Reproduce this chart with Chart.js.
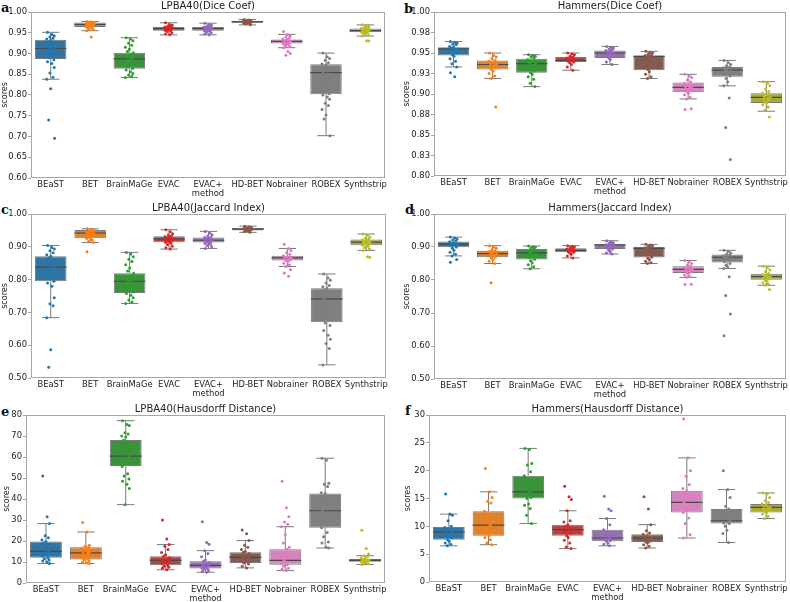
<!DOCTYPE html>
<html>
<head>
<meta charset="utf-8">
<script src="https://cdn.jsdelivr.net/npm/chart.js@4.4.1/dist/chart.umd.min.js"></script>
<style>
  html, body { margin: 0; padding: 0; background: #fff; width: 790px; height: 602px; overflow: hidden; }
  canvas { position: absolute; }
  .tag { position: absolute; font: bold 13px 'DejaVu Serif', serif; color: #111; line-height: 1; }
</style>
</head>
<body>
<div class="tag" style="left:1px;top:1px">a</div>
<div class="tag" style="left:404px;top:2px">b</div>
<div class="tag" style="left:1px;top:203px">c</div>
<div class="tag" style="left:405px;top:203px">d</div>
<div class="tag" style="left:1px;top:405px">e</div>
<div class="tag" style="left:405px;top:404px">f</div>
<script>
// methods on the x axis
const CATEGORIES = ['BEaST', 'BET', 'BrainMaGe', 'EVAC', 'EVAC+', 'HD-BET', 'Nobrainer', 'ROBEX', 'Synthstrip'];

// a: LPBA40 Dice
const A_LO  = [0.838, 0.955, 0.842, 0.945, 0.945, 0.969, 0.914, 0.702, 0.942];
const A_Q1  = [0.887, 0.964, 0.863, 0.955, 0.955, 0.974, 0.924, 0.802, 0.951];
const A_MED = [0.912, 0.970, 0.887, 0.960, 0.960, 0.976, 0.929, 0.854, 0.955];
const A_Q3  = [0.933, 0.975, 0.902, 0.964, 0.964, 0.979, 0.934, 0.874, 0.960];
const A_HI  = [0.951, 0.977, 0.938, 0.974, 0.973, 0.982, 0.946, 0.901, 0.969];
const A_PTS = [
  [0.951,0.946,0.943,0.940,0.937,0.935,0.932,0.928,0.925,0.920,0.915,0.912,0.910,0.906,0.900,0.895,0.890,0.885,0.880,0.876,0.866,0.853,0.843,0.838,0.815,0.740,0.696],
  [0.977,0.976,0.975,0.974,0.973,0.972,0.971,0.970,0.970,0.969,0.968,0.967,0.966,0.965,0.964,0.962,0.960,0.958,0.955,0.940],
  [0.938,0.935,0.931,0.925,0.920,0.915,0.910,0.905,0.902,0.898,0.893,0.888,0.885,0.880,0.876,0.872,0.868,0.864,0.860,0.856,0.852,0.848,0.845,0.842],
  [0.974,0.970,0.968,0.966,0.965,0.964,0.963,0.962,0.961,0.960,0.960,0.959,0.958,0.957,0.956,0.955,0.953,0.950,0.947,0.945],
  [0.973,0.970,0.968,0.966,0.965,0.964,0.963,0.962,0.961,0.960,0.959,0.958,0.957,0.956,0.955,0.954,0.952,0.950,0.947,0.945],
  [0.982,0.981,0.980,0.979,0.979,0.978,0.977,0.977,0.976,0.976,0.975,0.975,0.974,0.974,0.973,0.972,0.971,0.969],
  [0.953,0.946,0.942,0.940,0.937,0.935,0.933,0.931,0.930,0.929,0.928,0.927,0.926,0.925,0.924,0.922,0.920,0.917,0.914,0.905,0.900,0.896],
  [0.901,0.892,0.888,0.884,0.878,0.875,0.872,0.868,0.863,0.858,0.854,0.850,0.845,0.838,0.830,0.820,0.810,0.803,0.800,0.795,0.790,0.780,0.775,0.765,0.752,0.742,0.702],
  [0.969,0.967,0.965,0.963,0.961,0.960,0.959,0.958,0.957,0.956,0.955,0.954,0.953,0.952,0.951,0.950,0.948,0.945,0.942,0.931,0.930]
];
const A_YTICKS = [0.6, 0.65, 0.7, 0.75, 0.8, 0.85, 0.9, 0.95, 1.0];
const A_YLABELS = ['0.60', '0.65', '0.70', '0.75', '0.80', '0.85', '0.90', '0.95', '1.00'];

// b: Hammers Dice
const B_LO  = [0.933, 0.919, 0.909, 0.929, 0.936, 0.919, 0.894, 0.910, 0.879];
const B_Q1  = [0.947, 0.930, 0.926, 0.939, 0.944, 0.929, 0.902, 0.921, 0.889];
const B_MED = [0.955, 0.936, 0.937, 0.941, 0.950, 0.946, 0.908, 0.929, 0.896];
const B_Q3  = [0.957, 0.941, 0.943, 0.945, 0.953, 0.947, 0.914, 0.933, 0.901];
const B_HI  = [0.964, 0.950, 0.948, 0.950, 0.958, 0.952, 0.924, 0.941, 0.915];
const B_PTS = [
  [0.964,0.963,0.962,0.961,0.960,0.958,0.957,0.956,0.955,0.954,0.953,0.950,0.948,0.946,0.943,0.940,0.937,0.933,0.926,0.921],
  [0.950,0.947,0.945,0.943,0.941,0.940,0.938,0.937,0.936,0.935,0.934,0.932,0.930,0.928,0.925,0.922,0.919,0.884],
  [0.948,0.947,0.946,0.945,0.944,0.942,0.940,0.938,0.937,0.935,0.932,0.928,0.926,0.924,0.921,0.918,0.913,0.909],
  [0.950,0.949,0.948,0.946,0.945,0.944,0.943,0.942,0.941,0.941,0.940,0.939,0.938,0.936,0.933,0.929],
  [0.958,0.957,0.956,0.955,0.954,0.953,0.952,0.951,0.950,0.949,0.948,0.946,0.944,0.942,0.939,0.936],
  [0.952,0.951,0.950,0.949,0.948,0.947,0.946,0.946,0.945,0.942,0.938,0.933,0.930,0.927,0.924,0.921,0.919],
  [0.924,0.922,0.920,0.917,0.915,0.913,0.911,0.910,0.909,0.908,0.907,0.905,0.903,0.901,0.899,0.896,0.894,0.882,0.881],
  [0.941,0.938,0.936,0.934,0.933,0.932,0.930,0.929,0.928,0.926,0.924,0.922,0.919,0.915,0.910,0.895,0.859,0.820],
  [0.915,0.913,0.910,0.906,0.903,0.901,0.899,0.897,0.896,0.895,0.894,0.892,0.890,0.889,0.887,0.884,0.880,0.872]
];
const B_YTICKS = [0.8, 0.825, 0.85, 0.875, 0.9, 0.925, 0.95, 0.975, 1.0];
const B_YLABELS = ['0.80', '0.83', '0.85', '0.88', '0.90', '0.93', '0.95', '0.98', '1.00'];

// c: LPBA40 Jaccard
const C_LO  = [0.684, 0.913, 0.727, 0.893, 0.895, 0.944, 0.840, 0.540, 0.889];
const C_Q1  = [0.795, 0.926, 0.759, 0.914, 0.913, 0.950, 0.858, 0.670, 0.905];
const C_MED = [0.838, 0.942, 0.795, 0.924, 0.920, 0.954, 0.866, 0.741, 0.914];
const C_Q3  = [0.871, 0.951, 0.819, 0.932, 0.928, 0.957, 0.873, 0.774, 0.922];
const C_HI  = [0.904, 0.955, 0.883, 0.952, 0.947, 0.963, 0.895, 0.817, 0.939];
const C_PTS = [
  [0.904,0.898,0.893,0.888,0.882,0.876,0.871,0.866,0.860,0.852,0.845,0.838,0.832,0.825,0.818,0.810,0.803,0.795,0.790,0.780,0.745,0.726,0.720,0.684,0.586,0.533],
  [0.955,0.953,0.951,0.949,0.947,0.945,0.943,0.942,0.940,0.938,0.936,0.933,0.930,0.927,0.925,0.921,0.917,0.913,0.885],
  [0.883,0.878,0.870,0.862,0.855,0.845,0.835,0.826,0.819,0.812,0.805,0.798,0.795,0.790,0.784,0.776,0.768,0.762,0.758,0.752,0.745,0.738,0.732,0.727],
  [0.952,0.946,0.940,0.936,0.933,0.931,0.929,0.927,0.925,0.924,0.922,0.920,0.918,0.916,0.914,0.911,0.907,0.902,0.897,0.893],
  [0.947,0.942,0.937,0.933,0.930,0.928,0.926,0.924,0.922,0.920,0.919,0.917,0.915,0.913,0.911,0.908,0.904,0.900,0.895],
  [0.963,0.961,0.959,0.958,0.957,0.956,0.955,0.955,0.954,0.953,0.952,0.951,0.950,0.949,0.947,0.944],
  [0.908,0.895,0.889,0.882,0.877,0.873,0.870,0.868,0.866,0.864,0.862,0.860,0.858,0.855,0.850,0.845,0.840,0.830,0.820,0.810],
  [0.817,0.805,0.798,0.790,0.782,0.778,0.774,0.768,0.760,0.750,0.741,0.730,0.715,0.700,0.690,0.675,0.668,0.660,0.645,0.630,0.618,0.605,0.590,0.540],
  [0.939,0.935,0.930,0.926,0.923,0.921,0.919,0.917,0.915,0.914,0.913,0.911,0.909,0.907,0.905,0.902,0.898,0.893,0.889,0.870,0.868]
];
const C_YTICKS = [0.5, 0.6, 0.7, 0.8, 0.9, 1.0];
const C_YLABELS = ['0.50', '0.60', '0.70', '0.80', '0.90', '1.00'];

// d: Hammers Jaccard
const D_LO  = [0.873, 0.850, 0.834, 0.867, 0.879, 0.850, 0.808, 0.835, 0.784];
const D_Q1  = [0.899, 0.869, 0.862, 0.884, 0.894, 0.868, 0.821, 0.853, 0.801];
const D_MED = [0.909, 0.880, 0.882, 0.890, 0.906, 0.896, 0.832, 0.869, 0.810];
const D_Q3  = [0.917, 0.889, 0.894, 0.896, 0.909, 0.900, 0.842, 0.877, 0.819];
const D_HI  = [0.930, 0.904, 0.903, 0.904, 0.919, 0.908, 0.859, 0.890, 0.842];
const D_PTS = [
  [0.930,0.927,0.924,0.921,0.918,0.916,0.913,0.910,0.909,0.907,0.904,0.900,0.896,0.890,0.884,0.878,0.873,0.862,0.854],
  [0.904,0.900,0.896,0.892,0.889,0.886,0.883,0.880,0.878,0.876,0.873,0.870,0.866,0.862,0.857,0.850,0.792],
  [0.903,0.901,0.899,0.896,0.893,0.890,0.886,0.882,0.878,0.873,0.868,0.863,0.858,0.852,0.846,0.840,0.834],
  [0.904,0.902,0.900,0.898,0.896,0.894,0.892,0.890,0.889,0.888,0.886,0.884,0.882,0.878,0.873,0.867],
  [0.919,0.916,0.913,0.911,0.909,0.907,0.906,0.905,0.903,0.900,0.897,0.894,0.890,0.886,0.882,0.879],
  [0.908,0.906,0.904,0.902,0.900,0.898,0.896,0.893,0.888,0.882,0.876,0.870,0.866,0.862,0.857,0.852,0.850],
  [0.859,0.855,0.850,0.846,0.842,0.839,0.836,0.833,0.832,0.830,0.828,0.825,0.822,0.819,0.815,0.810,0.808,0.787,0.786],
  [0.890,0.886,0.882,0.878,0.876,0.873,0.870,0.868,0.865,0.860,0.855,0.850,0.845,0.840,0.835,0.810,0.753,0.697,0.631],
  [0.842,0.838,0.830,0.825,0.820,0.817,0.814,0.812,0.810,0.808,0.806,0.803,0.800,0.796,0.792,0.788,0.784,0.771]
];
const D_YTICKS = [0.5, 0.6, 0.7, 0.8, 0.9, 1.0];
const D_YLABELS = ['0.50', '0.60', '0.70', '0.80', '0.90', '1.00'];

// e: LPBA40 Hausdorff
const E_LO  = [9.3, 9.3, 37.3, 6.3, 5.1, 7.2, 5.9, 16.7, 8.8];
const E_Q1  = [12.0, 11.2, 55.7, 8.5, 6.9, 9.5, 8.7, 26.3, 10.1];
const E_MED = [15.1, 14.3, 60.4, 10.8, 8.4, 12.2, 10.8, 34.4, 10.8];
const E_Q3  = [19.8, 17.0, 68.1, 12.7, 10.3, 14.6, 16.1, 42.6, 11.4];
const E_HI  = [28.3, 24.3, 77.3, 18.3, 15.4, 20.2, 26.8, 59.4, 13.0];
const E_PTS = [
  [51.0,31.5,28.3,22.5,21.5,20.5,19.8,19.0,18.2,17.0,16.0,15.1,14.5,13.5,12.8,12.0,11.5,11.0,10.5,10.0,9.3],
  [28.8,24.3,18.0,17.5,17.0,16.5,16.0,15.5,15.0,14.5,14.3,13.8,13.2,12.5,12.0,11.5,11.2,10.5,10.0,9.5,9.3],
  [77.3,75.5,75.0,71.5,71.0,70.0,69.5,68.0,66.0,64.0,62.0,60.4,58.5,57.0,55.5,52.0,51.0,49.5,48.5,47.0,45.0,37.3],
  [30.0,21.0,18.3,17.5,16.0,14.5,13.5,12.7,12.0,11.5,11.0,10.8,10.2,9.8,9.2,8.5,8.0,7.5,7.0,6.3],
  [29.2,19.3,18.5,15.4,14.0,12.5,11.0,10.3,9.8,9.2,8.8,8.4,8.0,7.6,7.2,6.9,6.5,6.0,5.5,5.1],
  [25.2,23.5,20.2,18.0,17.0,16.0,15.0,14.6,14.0,13.2,12.5,12.2,11.8,11.0,10.5,10.0,9.5,9.0,8.0,7.2],
  [48.5,35.8,31.5,29.0,28.0,26.8,23.0,19.0,17.0,16.1,14.0,12.0,10.8,10.0,9.2,8.7,8.0,7.0,6.5,5.9],
  [59.4,58.5,47.5,47.0,46.0,43.0,42.6,40.0,38.0,36.0,34.4,32.0,30.0,28.0,26.3,24.0,22.0,19.5,19.0,17.0,16.7],
  [25.1,16.4,13.8,13.0,12.5,12.0,11.4,11.2,11.0,10.9,10.8,10.7,10.5,10.3,10.1,9.8,9.5,9.2,8.8]
];
const E_YTICKS = [0, 10, 20, 30, 40, 50, 60, 70, 80];
const E_YLABELS = ['0', '10', '20', '30', '40', '50', '60', '70', '80'];

// f: Hammers Hausdorff
const F_LO  = [6.5, 6.7, 10.5, 6.0, 6.5, 6.1, 7.9, 7.1, 11.4];
const F_Q1  = [7.6, 8.3, 15.0, 8.3, 7.3, 7.2, 12.5, 10.5, 12.5];
const F_MED = [9.0, 10.2, 16.2, 9.4, 7.9, 7.9, 14.3, 11.0, 13.4];
const F_Q3  = [9.9, 12.7, 19.1, 10.3, 9.4, 8.6, 16.4, 13.1, 14.0];
const F_HI  = [12.2, 16.2, 24.0, 12.8, 11.4, 10.3, 22.3, 16.6, 16.0];
const F_PTS = [
  [15.8,12.2,12.0,11.0,10.0,9.8,9.5,9.2,9.0,8.8,8.5,8.0,7.6,7.3,7.0,6.8,6.5],
  [20.4,16.2,15.2,14.5,14.2,12.7,12.0,11.5,10.8,10.2,9.8,9.2,8.7,8.3,8.0,7.6,7.0,6.7],
  [24.0,23.8,21.3,21.0,19.8,19.1,18.5,17.5,16.8,16.2,15.8,15.2,15.0,14.0,13.8,13.2,12.0,10.5],
  [17.2,15.3,14.8,12.8,11.0,10.8,10.3,10.0,9.7,9.4,9.1,8.8,8.3,8.0,7.5,7.0,6.3,6.0],
  [15.4,13.1,12.8,11.4,10.3,9.4,9.0,8.6,8.2,7.9,7.7,7.4,7.3,7.0,6.8,6.5],
  [15.3,13.1,10.3,9.2,8.8,8.6,8.3,8.1,7.9,7.7,7.5,7.3,7.2,7.0,6.7,6.4,6.1],
  [29.3,22.3,20.0,19.0,17.5,16.8,16.4,16.0,15.3,14.8,14.3,13.8,13.3,12.8,12.5,11.5,10.5,8.5,7.9],
  [20.0,16.6,15.2,13.6,13.1,12.8,12.0,11.5,11.0,10.8,10.6,10.5,10.0,9.3,8.7,7.1],
  [16.0,15.8,15.2,14.6,14.3,14.0,13.8,13.6,13.4,13.3,13.1,12.9,12.7,12.5,12.2,11.8,11.4]
];
const F_YTICKS = [0, 5, 10, 15, 20, 25, 30];
const F_YLABELS = ['0', '5', '10', '15', '20', '25', '30'];

// styling
const BOX_COLORS = ['#3274a1', '#e1812c', '#3a923a', '#c03d3e', '#9372b2', '#845b53', '#d684bd', '#7f7f7f', '#a9aa35'];
const PT_COLORS  = ['#1f77b4', '#ff7f0e', '#2ca02c', '#d62728', '#9467bd', '#8c564b', '#e377c2', '#7f7f7f', '#bcbd22'];
const JITTER = [-0.08, 0.03, 0.09, -0.02, 0.06, -0.1, 0.0, -0.05, 0.1, 0.04, -0.07, 0.07, -0.03, 0.01, -0.09, 0.05, -0.04, 0.08];
const FONT = 'DejaVu Sans';
const LINE = '#7a7a7a';
const TEXT = '#222';

// box frame and panel title
const framePlugin = {
  id: 'frame',
  beforeDatasetsDraw(chart, args, opts) {
    const a = chart.chartArea, ctx = chart.ctx;
    ctx.save();
    ctx.strokeStyle = '#a6a6a6';
    ctx.lineWidth = 1;
    ctx.strokeRect(Math.round(a.left) + 0.5, Math.round(a.top) + 0.5,
                   Math.round(a.width) - 1, Math.round(a.height) - 1);
    ctx.restore();
  },
  afterDraw(chart, args, opts) {
    const a = chart.chartArea, ctx = chart.ctx;
    ctx.save();
    ctx.font = '10px "' + FONT + '"';
    ctx.fillStyle = TEXT;
    ctx.textAlign = 'center';
    ctx.textBaseline = 'middle';
    ctx.fillText(opts.text, (a.left + a.right) / 2, a.top - 6);
    ctx.restore();
  }
};

// half-length of a horizontal line mark, as a share of one category slot
function slotRadius(share) {
  return function (ctx) {
    const a = ctx.chart.chartArea;
    return a ? a.width / CATEGORIES.length * share : 0;
  };
}

function makePanel(g, title, lo, q1, med, q3, hi, pts, yticks, ylabels) {
  const cv = document.createElement('canvas');
  const x0 = g.L - g.axisW - g.padL;
  const y0 = g.T - 13;
  const w = g.R + g.padR - x0;
  const h = g.B + 22 - y0;
  cv.width = w; cv.height = h;
  cv.style.left = x0 + 'px';
  cv.style.top = y0 + 'px';
  document.body.appendChild(cv);

  const points = [], colors = [];
  pts.forEach((list, i) => {
    list.forEach((v, k) => {
      points.push({ x: i + JITTER[k % JITTER.length], y: v });
      colors.push(PT_COLORS[i]);
    });
  });
  const whiskers = [];
  CATEGORIES.forEach((c, i) => {
    whiskers.push({ x: i, y: lo[i] }, { x: i, y: q1[i] }, { x: i, y: null },
                  { x: i, y: q3[i] }, { x: i, y: hi[i] }, { x: i, y: null });
  });
  const caps = [];
  CATEGORIES.forEach((c, i) => { caps.push({ x: i, y: lo[i] }, { x: i, y: hi[i] }); });

  new Chart(cv, {
    type: 'scatter',
    data: {
      datasets: [
        {
          label: 'points', data: points, order: 0,
          pointRadius: 1.5, pointBackgroundColor: colors, pointBorderWidth: 0
        },
        {
          label: 'median', data: CATEGORIES.map((c, i) => ({ x: i, y: med[i] })), order: 1,
          pointStyle: 'line', pointRadius: slotRadius(0.4),
          pointBorderColor: '#4a4a4a', pointBorderWidth: 1.2
        },
        {
          label: 'caps', data: caps, order: 2,
          pointStyle: 'line', pointRadius: slotRadius(0.22),
          pointBorderColor: LINE, pointBorderWidth: 1
        },
        {
          type: 'bar', label: 'box', order: 3,
          data: CATEGORIES.map((c, i) => ({ x: i, y: [q1[i], q3[i]] })),
          backgroundColor: BOX_COLORS, borderColor: LINE, borderWidth: 1,
          borderSkipped: false, categoryPercentage: 1, barPercentage: 0.8
        },
        {
          label: 'whiskers', data: whiskers, order: 4, showLine: true, spanGaps: false,
          pointRadius: 0, borderColor: LINE, borderWidth: 1
        }
      ]
    },
    options: {
      responsive: false,
      animation: false,
      events: [],
      layout: { padding: { left: g.padL, right: g.padR, top: 13, bottom: 0 } },
      plugins: {
        legend: { display: false },
        tooltip: { enabled: false },
        frame: { text: title }
      },
      scales: {
        x: {
          type: 'linear', min: -0.5, max: 8.5, offset: false,
          grid: { drawOnChartArea: false, drawTicks: false, offset: false },
          border: { display: false },
          afterBuildTicks: s => { s.ticks = CATEGORIES.map((c, i) => ({ value: i })); },
          afterFit: s => { s.height = 21; },
          ticks: {
            autoSkip: false, maxRotation: 0, minRotation: 0, padding: 2,
            color: TEXT, font: { family: FONT, size: 8.4 },
            callback: (v, i) => CATEGORIES[i]
          },
          title: { display: true, text: 'method', color: TEXT, font: { family: FONT, size: 8.4 }, padding: { top: 0, bottom: 0 } }
        },
        y: {
          type: 'linear', min: yticks[0], max: yticks[yticks.length - 1],
          grid: { drawOnChartArea: false, drawTicks: true, tickLength: 3, color: '#a6a6a6' },
          border: { display: false },
          afterBuildTicks: s => { s.ticks = yticks.map(v => ({ value: v })); },
          afterFit: s => { s.width = g.axisW; },
          ticks: {
            padding: 1, color: TEXT, font: { family: FONT, size: 8.4 },
            callback: (v, i) => ylabels[i]
          },
          title: { display: true, text: 'scores', color: TEXT, font: { family: FONT, size: 8 }, padding: { top: 0, bottom: 0 } }
        }
      }
    },
    plugins: [framePlugin]
  });
}

makePanel({ L: 31, R: 385, T: 12, B: 177, axisW: 31, padL: 0, padR: 10 },
  'LPBA40(Dice Coef)', A_LO, A_Q1, A_MED, A_Q3, A_HI, A_PTS, A_YTICKS, A_YLABELS);
makePanel({ L: 434, R: 786, T: 12, B: 175, axisW: 32, padL: 0, padR: 4 },
  'Hammers(Dice Coef)', B_LO, B_Q1, B_MED, B_Q3, B_HI, B_PTS, B_YTICKS, B_YLABELS);
makePanel({ L: 31, R: 386, T: 214, B: 377, axisW: 31, padL: 0, padR: 9 },
  'LPBA40(Jaccard Index)', C_LO, C_Q1, C_MED, C_Q3, C_HI, C_PTS, C_YTICKS, C_YLABELS);
makePanel({ L: 434, R: 786, T: 214, B: 378, axisW: 32, padL: 0, padR: 4 },
  'Hammers(Jaccard Index)', D_LO, D_Q1, D_MED, D_Q3, D_HI, D_PTS, D_YTICKS, D_YLABELS);
makePanel({ L: 26, R: 385, T: 415, B: 582, axisW: 24, padL: 2, padR: 10 },
  'LPBA40(Hausdorff Distance)', E_LO, E_Q1, E_MED, E_Q3, E_HI, E_PTS, E_YTICKS, E_YLABELS);
makePanel({ L: 429, R: 786, T: 415, B: 581, axisW: 26, padL: 0, padR: 4 },
  'Hammers(Hausdorff Distance)', F_LO, F_Q1, F_MED, F_Q3, F_HI, F_PTS, F_YTICKS, F_YLABELS);
</script>
</body>
</html>
